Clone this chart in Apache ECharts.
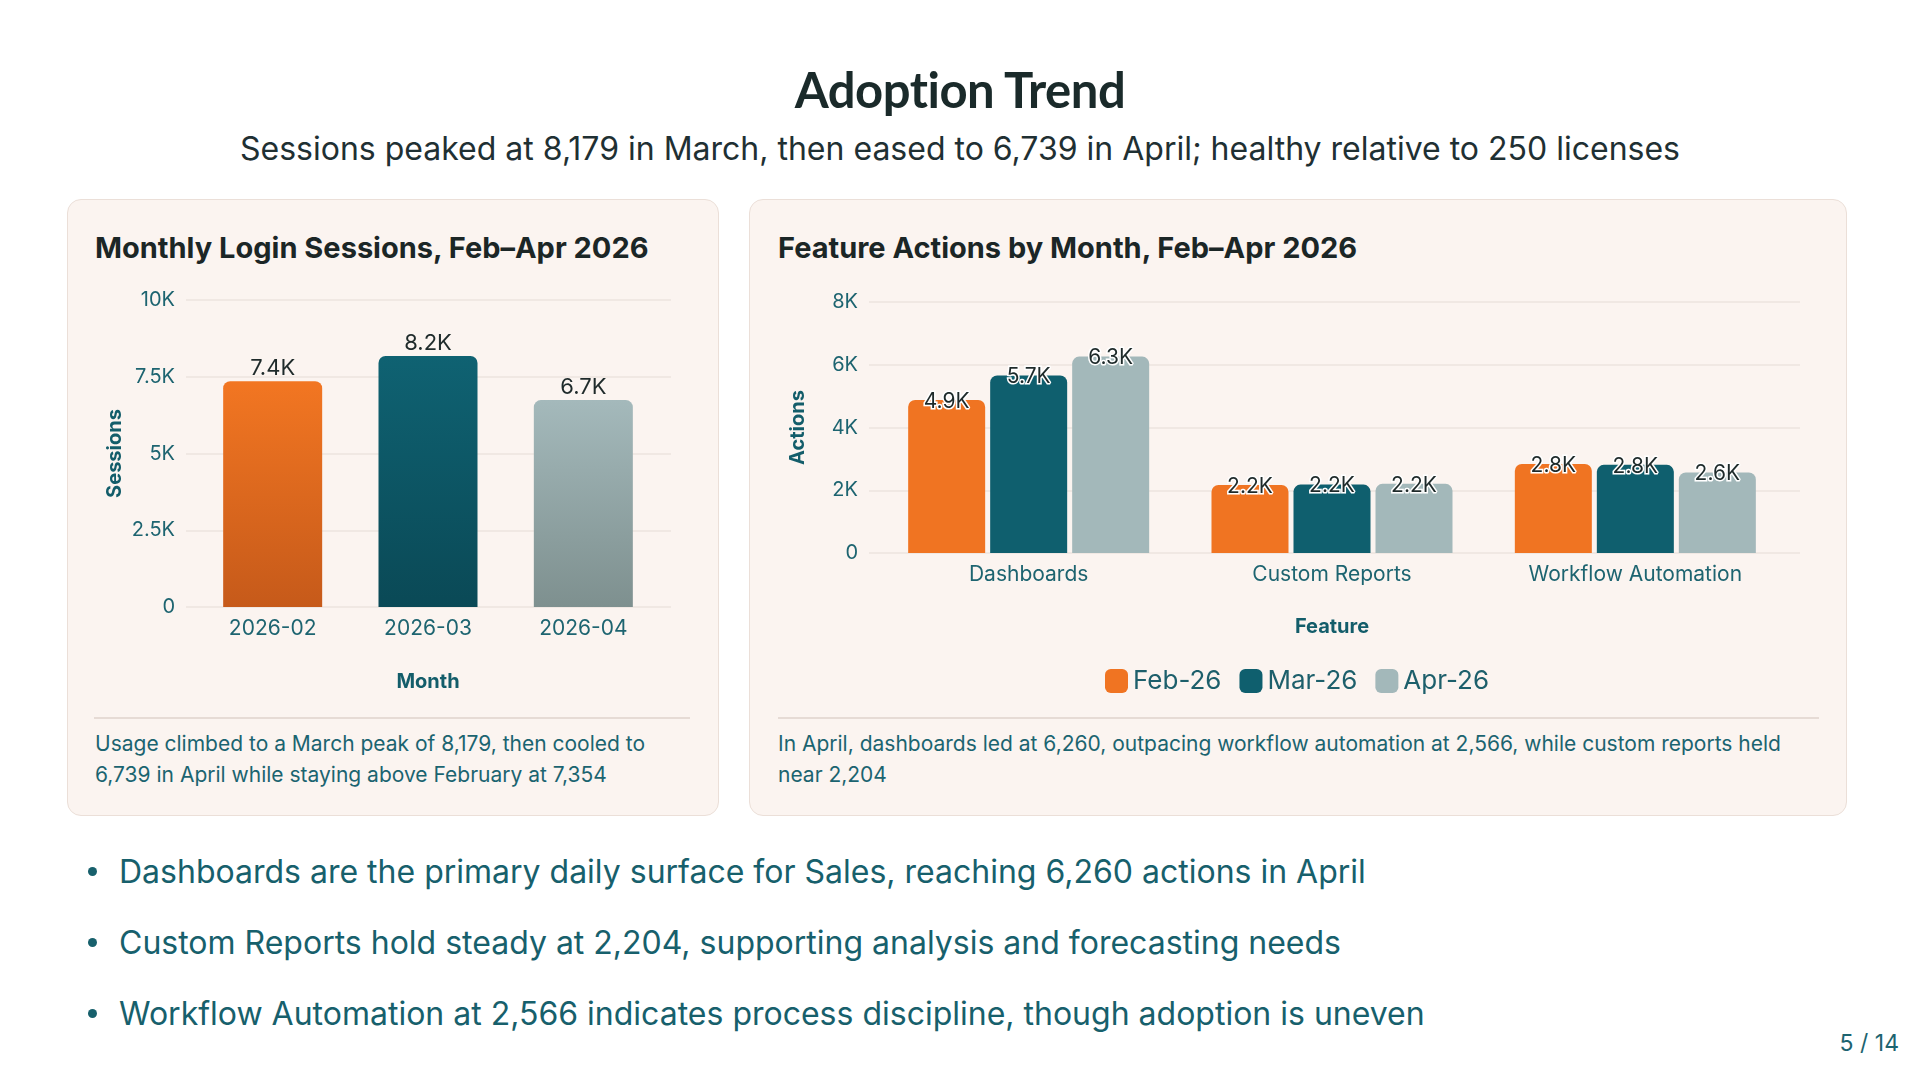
<!DOCTYPE html>
<html><head><meta charset="utf-8">
<script src="https://cdn.jsdelivr.net/npm/echarts/dist/echarts.min.js"></script>
<style>
html,body{margin:0;padding:0;background:#ffffff;width:1920px;height:1080px;overflow:hidden;font-family:Inter,"Noto Sans",sans-serif;}
.abs{position:absolute;white-space:nowrap;}
#title{left:0;width:1920px;top:59px;line-height:60px;text-align:center;font-family:Lato,Inter,sans-serif;font-weight:700;font-size:49px;color:#1a2a2a;letter-spacing:-0.5px;}
#subtitle{left:0;width:1920px;top:128px;line-height:42px;text-align:center;font-size:32px;color:#1f3033;}
.card{position:absolute;top:199px;height:617px;background:#fbf4f0;border:1.5px solid #ebdfd8;border-radius:14px;box-sizing:border-box;}
.ctitle{font-weight:700;font-size:29px;line-height:36px;top:230px;color:#1b2626;}
.divider{position:absolute;top:717px;height:1.5px;background:#e6dbd5;}
.caption{top:729px;font-size:21px;line-height:30.5px;color:#1b6470;}
.bullet{left:88px;font-size:32px;line-height:42px;color:#17606c;}
.bullet span.dot{display:inline-block;width:9px;height:9px;border-radius:50%;background:#17606c;margin-right:22px;vertical-align:middle;position:relative;top:-3px;}
#page{right:21px;top:1029px;font-size:23px;line-height:28px;color:#1d6470;}
#chart{position:absolute;left:0;top:0;width:1920px;height:1080px;}
</style></head>
<body>
<div class="abs" id="title">Adoption Trend</div>
<div class="abs" id="subtitle">Sessions peaked at 8,179 in March, then eased to 6,739 in April; healthy relative to 250 licenses</div>
<div class="card" style="left:67px;width:652px;"></div>
<div class="card" style="left:749px;width:1098px;"></div>
<div class="abs ctitle" style="left:95px;">Monthly Login Sessions, Feb–Apr 2026</div>
<div class="abs ctitle" style="left:778px;">Feature Actions by Month, Feb–Apr 2026</div>
<div class="divider" style="left:94px;width:596px;"></div>
<div class="divider" style="left:778px;width:1041px;"></div>
<div class="abs caption" style="left:95px;">Usage climbed to a March peak of 8,179, then cooled to<br>6,739 in April while staying above February at 7,354</div>
<div class="abs caption" style="left:778px;">In April, dashboards led at 6,260, outpacing workflow automation at 2,566, while custom reports held<br>near 2,204</div>
<div class="abs bullet" style="top:851px;"><span class="dot"></span>Dashboards are the primary daily surface for Sales, reaching 6,260 actions in April</div>
<div class="abs bullet" style="top:922px;"><span class="dot"></span>Custom Reports hold steady at 2,204, supporting analysis and forecasting needs</div>
<div class="abs bullet" style="top:993px;"><span class="dot"></span>Workflow Automation at 2,566 indicates process discipline, though adoption is uneven</div>
<div class="abs" id="page">5 / 14</div>
<div id="chart"></div>
<script>
// ---- data ----
const months = ['2026-02', '2026-03', '2026-04'];
const sessions = [7354, 8179, 6739];
const features = ['Dashboards', 'Custom Reports', 'Workflow Automation'];
const seriesNames = ['Feb-26', 'Mar-26', 'Apr-26'];
const febActions = [4880, 2170, 2840];
const marActions = [5660, 2180, 2810];
const aprActions = [6260, 2204, 2566];
const sessionAxis = {min: 0, max: 10000, interval: 2500};
const actionAxis = {min: 0, max: 8000, interval: 2000};

// ---- styles ----
const flatColors = ['#f07422', '#0f5f6e', '#a3b8ba'];
const gradStops = [['#f27622', '#c65a1a'], ['#0f6272', '#0a4956'], ['#a4b9bb', '#7e908f']];
const tickColor = '#1d6470';
const nameColor = '#135d6a';
const gridLine = '#ede4df';
const kFmt = v => v === 0 ? '0' : (v / 1000) + 'K';
const kLabel = v => (v / 1000).toFixed(1) + 'K';

const chart = echarts.init(document.getElementById('chart'), null, {renderer: 'canvas'});

const sessionData = sessions.map((v, i) => ({
  value: v,
  itemStyle: {color: new echarts.graphic.LinearGradient(0, 0, 0, 1, [
    {offset: 0, color: gradStops[i][0]}, {offset: 1, color: gradStops[i][1]}])}
}));

const actionSeries = [febActions, marActions, aprActions].map((arr, i) => ({
  name: seriesNames[i], type: 'bar', xAxisIndex: 3, yAxisIndex: 3,
  data: arr, barWidth: 77, barGap: '6.5%',
  itemStyle: {color: flatColors[i], borderRadius: [7, 7, 0, 0]},
  label: {show: true, position: 'top', distance: 0, offset: [0, 12],
    formatter: p => kLabel(p.value), fontSize: 21, color: '#1e2a2a',
    fontFamily: 'Inter', textBorderColor: '#ffffff', textBorderWidth: 3}
}));

const catAxisCommon = {
  type: 'category', axisLine: {show: false}, axisTick: {show: false},
  axisLabel: {color: tickColor, fontSize: 21, fontFamily: 'Inter', margin: 11},
  nameLocation: 'middle',
  nameTextStyle: {color: nameColor, fontSize: 20, fontWeight: 'bold', fontFamily: 'Inter'}
};
const valAxisCommon = {
  type: 'value',
  axisLine: {show: false}, axisTick: {show: false},
  axisLabel: {color: tickColor, fontSize: 20, fontFamily: 'Inter', margin: 11, formatter: kFmt},
  splitLine: {lineStyle: {color: gridLine, width: 1.5}},
  nameLocation: 'middle', nameRotate: 90,
  nameTextStyle: {color: nameColor, fontSize: 20, fontWeight: 'bold', fontFamily: 'Inter'}
};

chart.setOption({
  animation: false,
  textStyle: {fontFamily: 'Inter'},
  grid: [
    {left: 186, top: 300, width: 485, height: 307},
    {left: 195, top: 300, width: 466, height: 307},
    {left: 869, top: 302, width: 931, height: 251},
    {left: 877, top: 302, width: 910, height: 251}
  ],
  xAxis: [
    {gridIndex: 0, type: 'value', min: 0, max: 1, show: false},
    Object.assign({}, catAxisCommon, {gridIndex: 1, data: months, name: 'Month', nameGap: 65}),
    {gridIndex: 2, type: 'value', min: 0, max: 1, show: false},
    Object.assign({}, catAxisCommon, {gridIndex: 3, data: features, name: 'Feature', nameGap: 64})
  ],
  yAxis: [
    Object.assign({}, valAxisCommon, sessionAxis, {gridIndex: 0, name: 'Sessions', nameGap: 61}),
    Object.assign({}, sessionAxis, {gridIndex: 1, type: 'value', show: false}),
    Object.assign({}, valAxisCommon, actionAxis, {gridIndex: 2, name: 'Actions', nameGap: 61}),
    Object.assign({}, actionAxis, {gridIndex: 3, type: 'value', show: false})
  ],
  legend: {
    data: seriesNames, left: 1100, top: 663, icon: 'roundRect',
    itemWidth: 23, itemHeight: 24, itemGap: 18,
    textStyle: {color: '#1d5f6b', fontSize: 26, fontFamily: 'Inter'}
  },
  series: [
    {type: 'bar', xAxisIndex: 1, yAxisIndex: 1, data: sessionData, barWidth: 99,
     itemStyle: {borderRadius: [7, 7, 0, 0]},
     label: {show: true, position: 'top', distance: 2, formatter: p => kLabel(p.value),
       fontSize: 22, color: '#1e2a2a', fontFamily: 'Inter'}}
  ].concat(actionSeries)
});
</script>
</body></html>
